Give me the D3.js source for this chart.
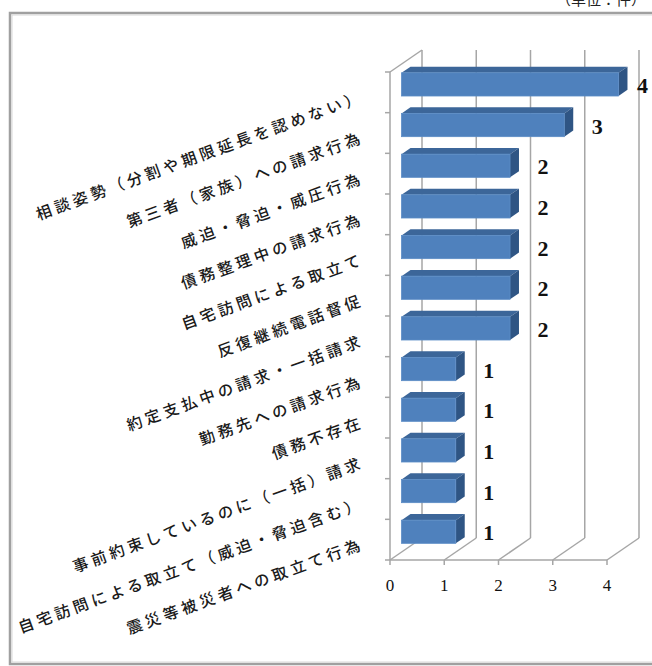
<!DOCTYPE html>
<html><head><meta charset="utf-8">
<script src="https://cdn.jsdelivr.net/npm/d3@7"></script>
<style>html,body{margin:0;padding:0;background:#fff;overflow:hidden}</style>
</head><body>
<svg id="chart" width="652" height="666"></svg>
<script>
const categories = [
  "相談姿勢（分割や期限延長を認めない）",
  "第三者（家族）への請求行為",
  "威迫・脅迫・威圧行為",
  "債務整理中の請求行為",
  "自宅訪問による取立て",
  "反復継続電話督促",
  "約定支払中の請求・一括請求",
  "勤務先への請求行為",
  "債務不存在",
  "事前約束しているのに（一括）請求",
  "自宅訪問による取立て（威迫・脅迫含む）",
  "震災等被災者への取立て行為"
];
const values = [4, 3, 2, 2, 2, 2, 2, 1, 1, 1, 1, 1];
const xTicks = [0, 1, 2, 3, 4];
const unitLabel = "（単位：件）";

const W = 652, H = 666;
const svg = d3.select("#chart");
const x = d3.scaleLinear().domain([0, 4]).range([390, 607]);
const y = d3.scaleBand().domain(categories).range([72, 560]).padding(0);
const DX = 32, DY = -22;          // depth of plot box
const f0 = 0.36, f1 = 0.64;       // bar depth position fractions
const barH = y.bandwidth() * 0.57;
const gridColor = "#a6a6a6";

// frame
svg.append("rect").attr("x", 10).attr("y", 13).attr("width", 660).attr("height", 651)
  .attr("fill", "none").attr("stroke", "#a0a0a0").attr("stroke-width", 2.5);
svg.append("rect").attr("x", 12).attr("y", 15).attr("width", 660).attr("height", 647)
  .attr("fill", "none").attr("stroke", "#d8d8d8").attr("stroke-width", 1);

// unit label (cut off at top, as in the reference)
svg.append("text").attr("x", 646).attr("y", 5).attr("text-anchor", "end")
  .attr("font-family", "Noto Sans CJK JP").attr("font-size", 15).attr("fill", "#222")
  .text(unitLabel);

const y0 = y.range()[0], y1 = y.range()[1];
const g = svg.append("g");

// back gridlines
g.selectAll(".grid").data(xTicks).join("line")
  .attr("x1", d => x(d) + DX).attr("x2", d => x(d) + DX)
  .attr("y1", y0 + DY).attr("y2", y1 + DY)
  .attr("stroke", gridColor).attr("stroke-width", 1.5);
// floor diagonals
g.selectAll(".fd").data(xTicks).join("line")
  .attr("x1", d => x(d)).attr("x2", d => x(d) + DX)
  .attr("y1", y1).attr("y2", y1 + DY)
  .attr("stroke", gridColor).attr("stroke-width", 1.5);
// left wall top diagonal
g.append("line").attr("x1", x(0)).attr("y1", y0).attr("x2", x(0) + DX).attr("y2", y0 + DY)
  .attr("stroke", gridColor).attr("stroke-width", 1.5);
// front axis lines
g.append("line").attr("x1", x(0)).attr("y1", y0).attr("x2", x(0)).attr("y2", y1)
  .attr("stroke", gridColor).attr("stroke-width", 1.5);
g.append("line").attr("x1", x(0)).attr("y1", y1).attr("x2", x(4)).attr("y2", y1)
  .attr("stroke", gridColor).attr("stroke-width", 1.5);
// y ticks
const bounds = categories.map(c => y(c)).concat([y1]);
g.selectAll(".yt").data(bounds).join("line")
  .attr("x1", x(0) - 5).attr("x2", x(0)).attr("y1", d => d).attr("y2", d => d)
  .attr("stroke", gridColor).attr("stroke-width", 1.5);
// x ticks
g.selectAll(".xt").data(xTicks).join("line")
  .attr("x1", d => x(d)).attr("x2", d => x(d)).attr("y1", y1).attr("y2", y1 + 5)
  .attr("stroke", gridColor).attr("stroke-width", 1.5);
// x tick labels
g.selectAll(".xl").data(xTicks).join("text")
  .attr("x", d => x(d)).attr("y", y1 + 25).attr("dy", "0.35em")
  .attr("text-anchor", "middle").attr("font-family", "Liberation Serif")
  .attr("font-size", 17).attr("fill", "#111").text(d => d);

// bars
const data = categories.map((c, i) => ({ c, v: values[i] }));
const bars = g.selectAll(".bar").data(data).join("g");
bars.each(function(d) {
  const s = d3.select(this);
  const cy = y(d.c) + y.bandwidth() / 2;
  const fx0 = x(0) + DX * f0, fx1 = x(d.v) + DX * f0;
  const ft = cy + DY * f0 - barH / 2, fb = ft + barH;
  const ddx = DX * (f1 - f0), ddy = DY * (f1 - f0);
  s.append("path").attr("d", `M${fx0},${ft} L${fx0 + ddx},${ft + ddy} L${fx1 + ddx},${ft + ddy} L${fx1},${ft} Z`)
    .attr("fill", "#3c6699");
  s.append("path").attr("d", `M${fx1},${ft} L${fx1 + ddx},${ft + ddy} L${fx1 + ddx},${fb + ddy} L${fx1},${fb} Z`)
    .attr("fill", "#2f5584");
  s.append("rect").attr("x", fx0).attr("y", ft).attr("width", fx1 - fx0).attr("height", barH)
    .attr("fill", "#4f81bd").attr("stroke", "#5b8cc6").attr("stroke-width", 0.8);
  s.append("text").attr("x", Math.min(x(d.v) + 39, W - 15)).attr("y", cy + DY * f0 + 1).attr("dy", "0.35em")
    .attr("font-family", "Liberation Serif").attr("font-weight", "bold").attr("font-size", 22)
    .attr("fill", "#111").text(d.v);
});

// category labels
g.selectAll(".cl").data(categories).join("text")
  .attr("transform", d => `translate(365,${y(d) + y.bandwidth() / 2 + 9}) rotate(-20)`)
  .attr("text-anchor", "end").attr("font-family", "Noto Sans CJK JP").attr("font-weight", 500)
  .attr("font-size", 15.5).attr("letter-spacing", 3.8).attr("fill", "#1a1a1a")
  .text(d => d);
</script>
</body></html>
